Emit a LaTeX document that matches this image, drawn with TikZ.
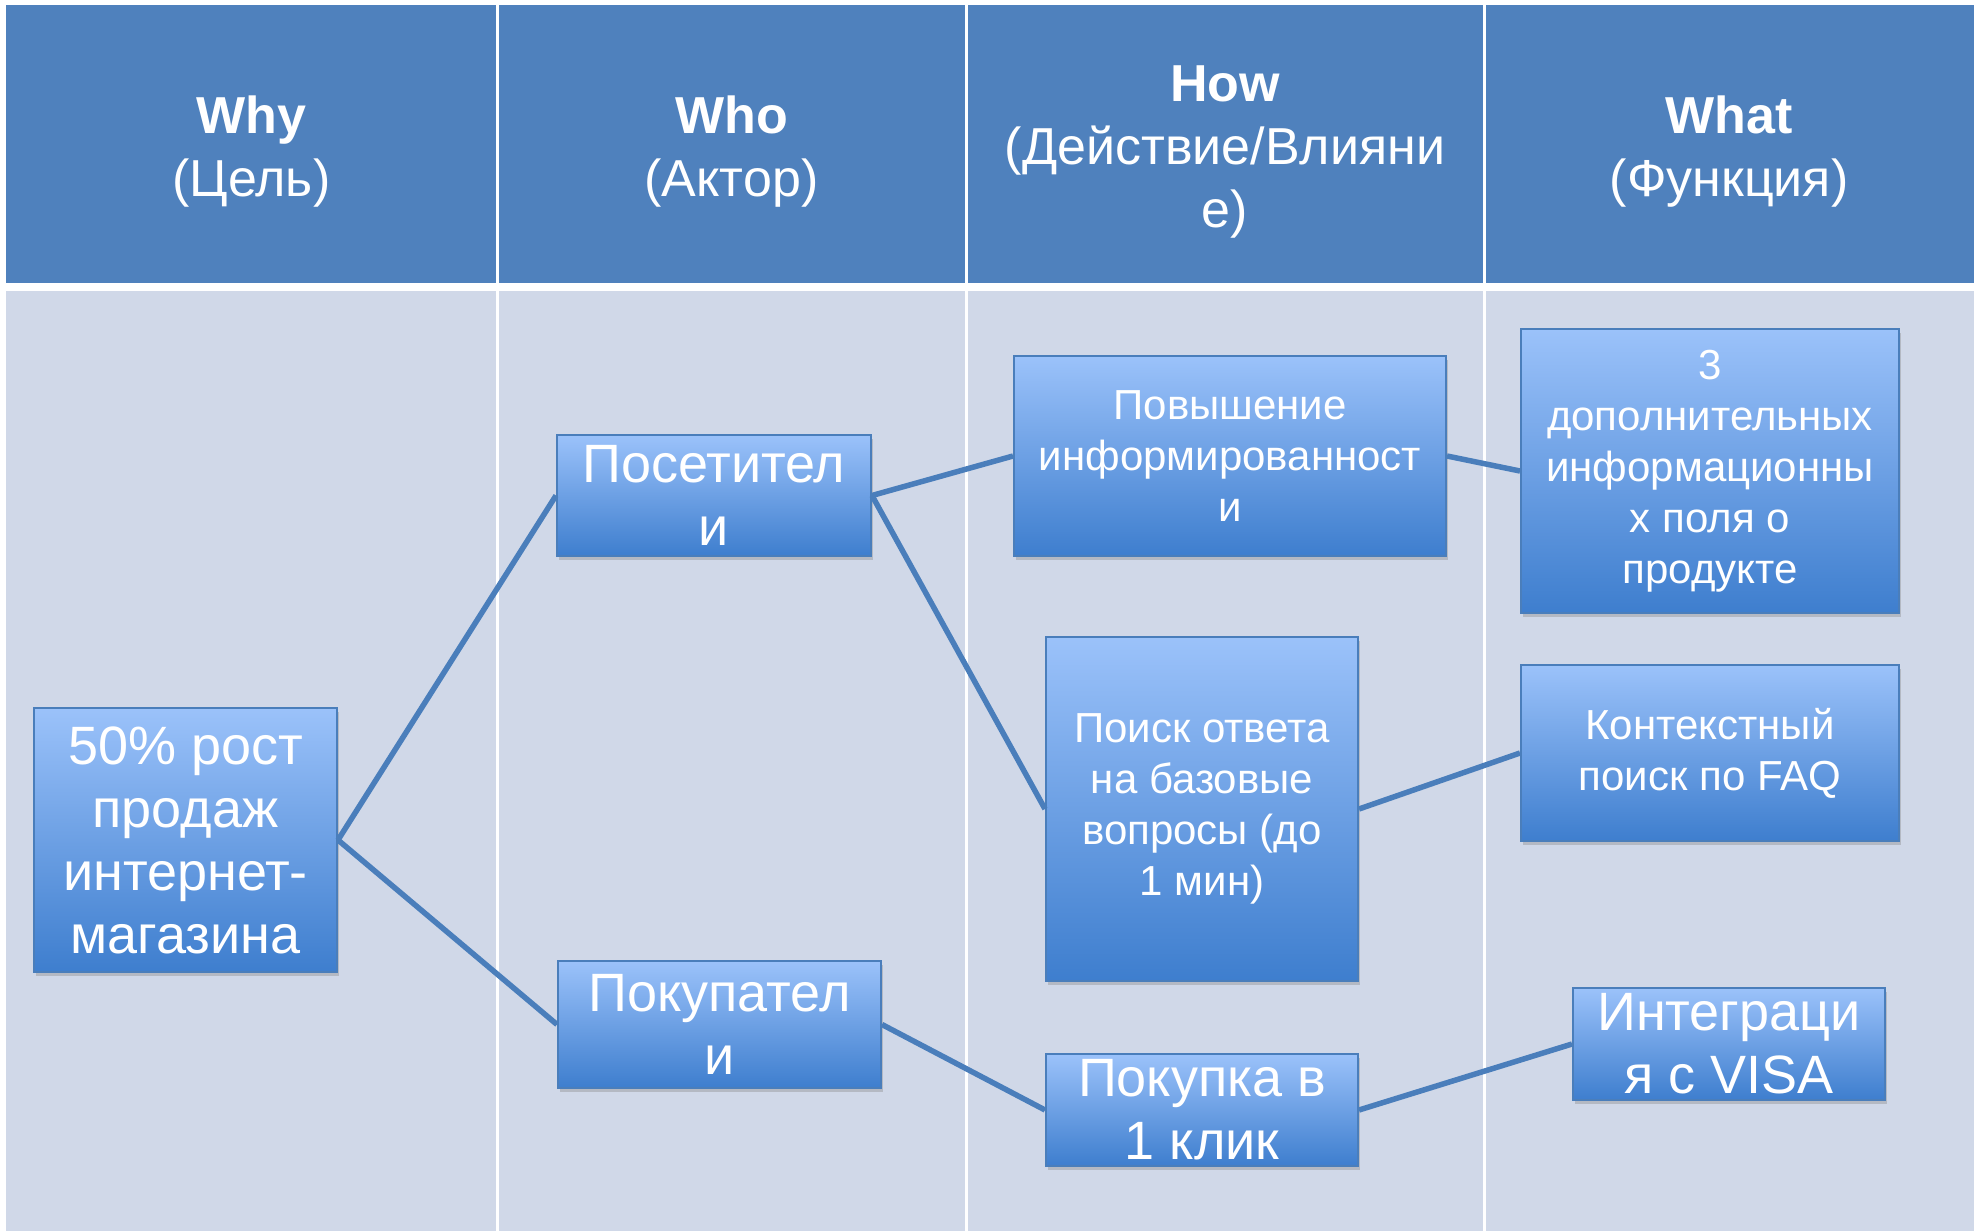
\documentclass[tikz,border=0pt]{standalone}
\usepackage{fontspec}
\setmainfont{Liberation Sans}
\usepackage{tikz}
\usetikzlibrary{positioning,shadows}

\definecolor{headblue}{RGB}{79,129,189}
\definecolor{bodyblue}{RGB}{208,216,232}
\definecolor{linkblue}{RGB}{74,126,187}
\definecolor{boxtop}{RGB}{155,194,250}
\definecolor{boxbottom}{RGB}{62,126,206}

\begin{document}
\begin{tikzpicture}[
    x = 0.5pt, y = -0.5pt, % one unit per pixel, y going down
    link/.style = {draw = linkblue, line width = 2.75pt}, % connector style
    head/.style = {text = white, align = center, font = \fontsize{26}{31.5}\selectfont}
    ]

    \tikzset{
    box/.style = {
    draw = linkblue,
    line width = 1pt,
    top color = boxtop,
    bottom color = boxbottom,
    drop shadow = {shadow xshift = 1.2pt, shadow yshift = -1.8pt, opacity = 0.35},
    text = white,
    align = center,
    inner sep = 0pt,
    font = \fontsize{27}{31.5}\selectfont
    },
    smalltext/.style = {font = \fontsize{21}{25.5}\selectfont}
    }

    \useasboundingbox (0,0) rectangle (1983,1231);

    % table
    \fill[headblue] (6,5) rectangle (1974,283);
    \fill[bodyblue] (6,291) rectangle (1974,1231);
    \foreach \x in {497,966,1484}
      \draw[white, line width = 1.5pt] (\x,5) -- (\x,1231);

    \node[head] (h1) at (251.5,152) {\textbf{Why}\\(Цель)};
    \node[head] (h2) at (731.5,152) {\textbf{Who}\\(Актор)};
    \node[head] (h3) at (1225,152) {\textbf{How}\\(Действие/Влияни\\е)};
    \node[head] (h4) at (1729,152) {\textbf{What}\\(Функция)};

    % boxes
    \node[box, minimum width = 151.5pt, minimum height = 132pt] (why1) at (185.5,840) {50\% рост\\продаж\\интернет-\\магазина};
    \node[box, minimum width = 157pt, minimum height = 60.5pt] (who1) at (714,495.5) {Посетител\\и};
    \node[box, minimum width = 161.5pt, minimum height = 63.5pt] (who2) at (719.5,1024.5) {Покупател\\и};
    \node[box, smalltext, minimum width = 216pt, minimum height = 100pt] (how1) at (1230,456) {Повышение\\информированност\\и};
    \node[box, smalltext, minimum width = 156pt, minimum height = 172pt] (how2) at (1202,809) {Поиск ответа\\на базовые\\вопросы (до\\1 мин)};
    \node[box, minimum width = 156pt, minimum height = 56pt] (how3) at (1202,1110) {Покупка в\\1 клик};
    \node[box, smalltext, minimum width = 189pt, minimum height = 142pt] (what1) at (1710,471) {3\\дополнительных\\информационны\\х поля о\\продукте};
    \node[box, smalltext, minimum width = 189pt, minimum height = 88pt] (what2) at (1710,753) {Контекстный\\поиск по FAQ};
    \node[box, minimum width = 156pt, minimum height = 56pt] (what3) at (1729,1044) {Интеграци\\я с VISA};

    \path[link] (why1.east) edge (who1.west);
    \path[link] (why1.east) edge (who2.west);
    \path[link] (who1.east) edge (how1.west);
    \path[link] (who1.east) edge (how2.west);
    \path[link] (who2.east) edge (how3.west);
    \path[link] (how1.east) edge (what1.west);
    \path[link] (how2.east) edge (what2.west);
    \path[link] (how3.east) edge (what3.west);
\end{tikzpicture}
\end{document}
